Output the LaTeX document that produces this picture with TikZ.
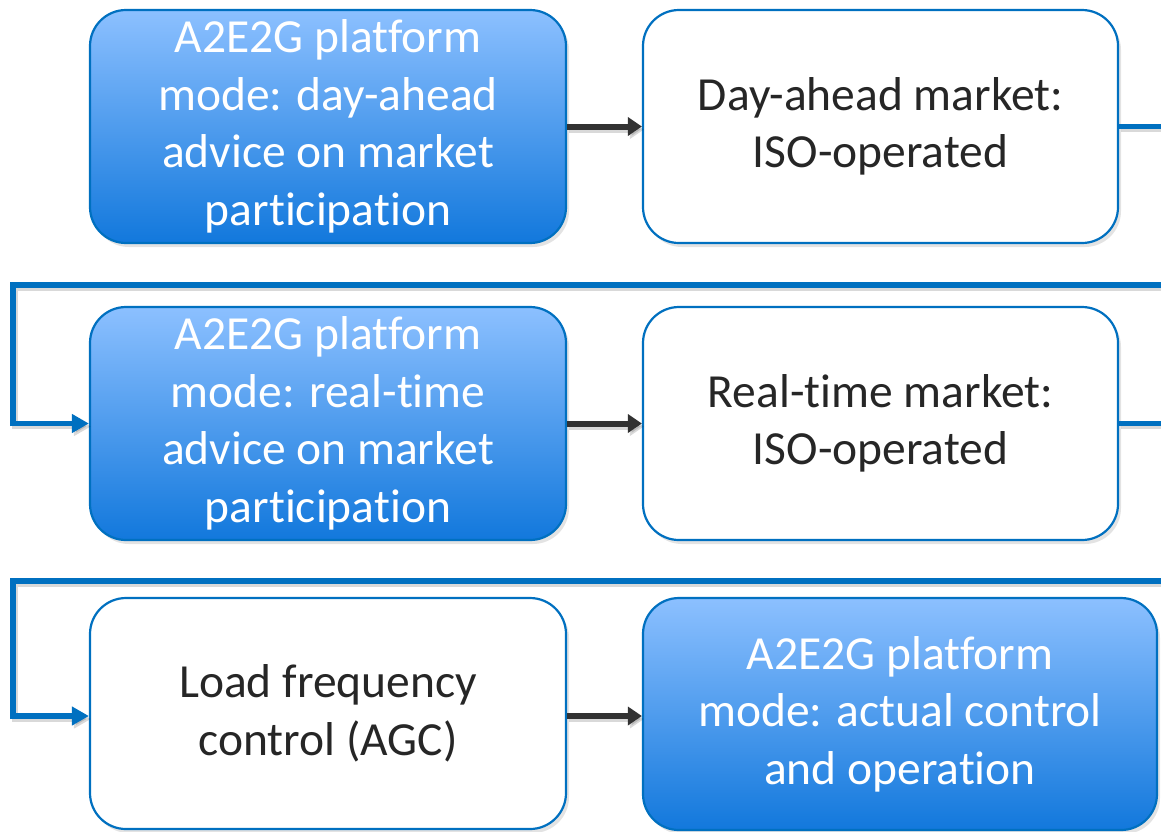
\documentclass[tikz,border=0pt]{standalone}
\usepackage{fontspec}
\setmainfont{Carlito}[Ligatures={NoCommon}]
\usetikzlibrary{arrows.meta,shadows,calc}
\definecolor{edgeblue}{RGB}{0,112,192}
\definecolor{topblue}{RGB}{140,192,255}
\definecolor{botblue}{RGB}{18,120,220}
\definecolor{darkarrow}{RGB}{50,50,50}
\definecolor{textdark}{RGB}{38,38,38}
\tikzset{
  x=1pt, y=-1pt,
  box/.style={draw=edgeblue, line width=2.2pt, rounded corners=36pt, inner sep=0pt,
    drop shadow={opacity=0.22, shadow xshift=3pt, shadow yshift=-4pt},
    font=\fontsize{47.5}{57.5}\selectfont, align=center},
  bluebox/.style={box, top color=topblue, bottom color=botblue, text=white},
  whitebox/.style={box, fill=white, text=textdark},
  conn/.style={draw=edgeblue, line width=5.5pt, line join=miter, line cap=butt,
    -{Triangle[length=17pt,width=18pt]},
    preaction={draw=black, opacity=0.15, line width=5.5pt, transform canvas={xshift=2pt,yshift=-3pt}, -{Triangle[length=17pt,width=18pt]}}},
  darr/.style={draw=darkarrow, line width=6pt, -{Triangle[length=14pt,width=18pt]},
    preaction={draw=black, opacity=0.15, line width=6pt, transform canvas={xshift=2pt,yshift=-3pt}, -{Triangle[length=14pt,width=18pt]}}}
}
\begin{document}
\begin{tikzpicture}
\useasboundingbox (0,0) rectangle (1161,831);
\node[bluebox, minimum width=476pt, minimum height=233pt] (b1) at (328,126.5)
  {A2E2G platform\\mode: day-ahead\\advice on market\\participation};
\node[whitebox, minimum width=475pt, minimum height=233pt] (b2) at (880.5,126.5)
  {Day-ahead market:\\ISO-operated};
\node[bluebox, minimum width=476pt, minimum height=233pt] (b3) at (328,423.5)
  {A2E2G platform\\mode: real-time\\advice on market\\participation};
\node[whitebox, minimum width=475pt, minimum height=233pt] (b4) at (880.5,423.5)
  {Real-time market:\\ISO-operated};
\node[whitebox, minimum width=476pt, minimum height=231pt] (b5) at (328,713.5)
  {Load frequency\\control (AGC)};
\node[bluebox, minimum width=514pt, minimum height=232pt] (b6) at (900,714)
  {A2E2G platform\\mode: actual control\\and operation};
\coordinate (c1) at (1180,285);
\coordinate (c2) at (13,423.5);
\coordinate (c3) at (1180,581);
\coordinate (c4) at (13,716);
\draw[conn] (b2.east) -| (c1) -| (c2) -- (b3.west);
\draw[conn] (b4.east) -| (c3) -| (c4) -- (b5.west |- c4);
\draw[darr] (b1.east) -- (b2.west);
\draw[darr] (b3.east) -- (b4.west);
\draw[darr] (b5.east |- c4) -- (b6.west |- c4);
\end{tikzpicture}
\end{document}
